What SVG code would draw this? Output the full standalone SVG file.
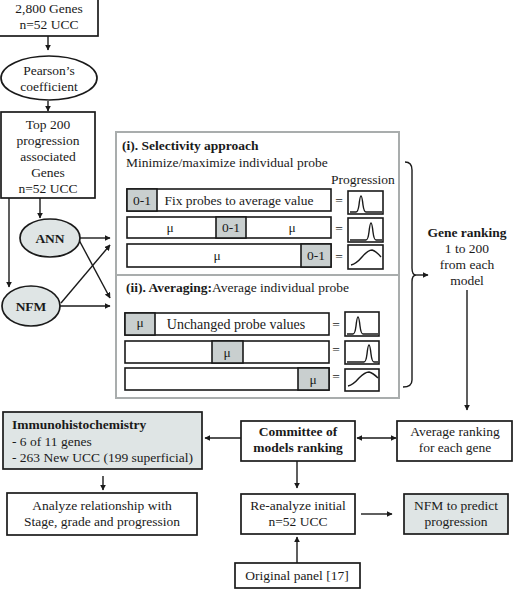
<svg xmlns="http://www.w3.org/2000/svg" width="514" height="594" viewBox="0 0 514 594" font-family="'Liberation Serif', 'DejaVu Serif', serif">
<defs>
<marker id="ah" viewBox="0 0 10 10" refX="9" refY="5" markerWidth="6" markerHeight="6" orient="auto-start-reverse" markerUnits="userSpaceOnUse">
<path d="M0,0 L10,5 L0,10 z" fill="#1a1a1a"/>
</marker>
<style>
text{font-family:'Liberation Serif','DejaVu Serif',serif;font-size:13.5px;fill:#1a1a1a}
.c{text-anchor:middle}
.b{font-weight:bold}
.box{fill:#fff;stroke:#1a1a1a;stroke-width:1.7}
.fbox{fill:#dfe5e5;stroke:#1a1a1a;stroke-width:1.7}
.ell{fill:#dfe5e5;stroke:#1a1a1a;stroke-width:1.7}
.cell{fill:#c9cfcf;stroke:#1a1a1a;stroke-width:1.6}
.row{fill:#fff;stroke:#1a1a1a;stroke-width:1.6}
.gbox{fill:#fff;stroke:#1a1a1a;stroke-width:1.6}
.curve{fill:none;stroke:#1a1a1a;stroke-width:1.4}
.ln{fill:none;stroke:#1a1a1a;stroke-width:1.4}
.ar{fill:none;stroke:#1a1a1a;stroke-width:1.4;marker-end:url(#ah)}
</style>
</defs>
<rect width="514" height="594" fill="#fff"/>

<g id="connectors">
<path class="ar" d="M48,36 V50"/>
<path class="ar" d="M48,101 V111"/>
<path class="ar" d="M40,198 V218"/>
<path class="ar" d="M9,198 V287"/>
<path class="ar" d="M80,238 H110"/>
<path class="ar" d="M79,240 L110,298"/>
<path class="ar" d="M60,306 H110"/>
<path class="ar" d="M61,303 L110,245"/>
<path class="ar" d="M142,170 V184"/>
<path class="ar" d="M142,293 V307"/>
<path class="ln" d="M405,162 Q412,162 412,170 V268 Q412,275 416,275 Q412,275 412,282 V380 Q412,387 403,387"/>
<path class="ar" d="M416,275 H428"/>
<path class="ar" d="M467,290 V410"/>
<path class="ar" d="M357,438 H396" style="marker-start:url(#ah)"/>
<path class="ar" d="M241,438 H205"/>
<path class="ar" d="M103,476 V490"/>
<path class="ar" d="M297,461 V488"/>
<path class="ar" d="M361,514 H392"/>
<path class="ar" d="M297,563 V537"/>
</g>

<g id="genes2800">
<rect class="box" x="-1" y="-2" width="99" height="38"/>
<text class="c" x="49" y="13">2,800 Genes</text>
<text class="c" x="49" y="29">n=52 UCC</text>
</g>

<g id="pearson">
<ellipse class="ell" cx="49" cy="78" rx="48" ry="22" style="fill:#fff"/>
<text class="c" x="49" y="75">Pearson’s</text>
<text class="c" x="49" y="91">coefficient</text>
</g>

<g id="top200">
<rect class="box" x="1" y="112" width="94" height="86"/>
<text class="c" x="48" y="129">Top 200</text>
<text class="c" x="48" y="145">progression</text>
<text class="c" x="48" y="161">associated</text>
<text class="c" x="48" y="177">Genes</text>
<text class="c" x="48" y="193">n=52 UCC</text>
</g>

<g id="ann">
<ellipse class="ell" cx="50" cy="238" rx="30" ry="19"/>
<text class="c b" x="50" y="243">ANN</text>
</g>

<g id="nfm">
<ellipse class="ell" cx="31" cy="306" rx="29" ry="20"/>
<text class="c b" x="31" y="311">NFM</text>
</g>

<g id="methods">
<rect x="116" y="132" width="283" height="266" fill="#fff" stroke="#a9adad" stroke-width="2"/>
<line x1="116" y1="275" x2="399" y2="275" stroke="#a9adad" stroke-width="2"/>
<text class="b" x="122" y="150">(i). Selectivity approach</text>
<text x="126" y="167">Minimize/maximize individual probe</text>
<text x="331" y="184">Progression</text>

<rect class="row" x="127" y="189" width="204" height="22"/>
<rect class="cell" x="127" y="189" width="30" height="22"/>
<text class="c" x="142" y="205">0-1</text>
<text class="c" x="239" y="205">Fix probes to average value</text>
<text class="c" x="339" y="205">=</text>
<rect class="gbox" x="348" y="191" width="35" height="23"/>
<path class="curve" d="M350,212 H356 Q358,212 359,205 Q360,196 361,196 Q362,196 363,205 Q364,212 366,212 H382"/>

<rect class="row" x="127" y="217" width="204" height="21"/>
<rect class="cell" x="216" y="217" width="30" height="21"/>
<text class="c" x="170" y="232">μ</text>
<text class="c" x="231" y="232">0-1</text>
<text class="c" x="292" y="232">μ</text>
<text class="c" x="339" y="233">=</text>
<rect class="gbox" x="348" y="218" width="35" height="24"/>
<path class="curve" d="M350,240 H366 Q368,240 369,232 Q370,223 371,223 Q372,223 373,232 Q374,240 376,240 H382"/>

<rect class="row" x="127" y="244" width="204" height="23"/>
<rect class="cell" x="301" y="244" width="30" height="23"/>
<text class="c" x="217" y="260">μ</text>
<text class="c" x="316" y="260">0-1</text>
<text class="c" x="339" y="261">=</text>
<rect class="gbox" x="348" y="245" width="35" height="24"/>
<path class="curve" d="M351,265 Q356,264 362,257 Q368,250 372,250 Q376,251 381,257"/>

<text x="126" y="292"><tspan font-weight="bold">(ii). Averaging:</tspan>Average individual probe</text>

<rect class="row" x="125" y="313" width="204" height="22"/>
<rect class="cell" x="125" y="313" width="30" height="22"/>
<text class="c" x="140" y="327">μ</text>
<text class="c" x="236" y="329" style="font-size:14px">Unchanged probe values</text>
<text class="c" x="336" y="329">=</text>
<rect class="gbox" x="345" y="312" width="34" height="24"/>
<path class="curve" d="M347,334 H353 Q355,334 356,326 Q357,317 358,317 Q359,317 360,326 Q361,334 363,334 H378"/>

<rect class="row" x="125" y="341" width="204" height="22"/>
<rect class="cell" x="212" y="341" width="31" height="22"/>
<text class="c" x="227" y="357">μ</text>
<text class="c" x="336" y="354">=</text>
<rect class="gbox" x="345" y="341" width="34" height="23"/>
<path class="curve" d="M347,362 H364 Q366,362 367,354 Q368,345 369,345 Q370,345 371,354 Q372,362 374,362 H378"/>

<rect class="row" x="125" y="368" width="204" height="22"/>
<rect class="cell" x="298" y="368" width="31" height="22"/>
<text class="c" x="313" y="384">μ</text>
<text class="c" x="336" y="381">=</text>
<rect class="gbox" x="345" y="369" width="34" height="22"/>
<path class="curve" d="M348,386 Q353,385 359,378 Q365,372 369,372 Q373,373 378,378"/>
</g>

<g id="gene-ranking">
<text class="c b" x="467" y="237">Gene ranking</text>
<text class="c" x="467" y="253">1 to 200</text>
<text class="c" x="467" y="269">from each</text>
<text class="c" x="467" y="285">model</text>
</g>

<g id="average">
<rect class="box" x="397" y="421" width="115" height="40"/>
<text class="c" x="455" y="436">Average ranking</text>
<text class="c" x="455" y="452">for each gene</text>
</g>

<g id="committee">
<rect class="box" x="241" y="421" width="114" height="40"/>
<text class="c b" x="298" y="436">Committee of</text>
<text class="c b" x="298" y="452">models ranking</text>
</g>

<g id="immuno">
<rect class="fbox" x="3" y="412" width="199" height="57"/>
<text class="b" x="12" y="429">Immunohistochemistry</text>
<text x="12" y="446">- 6 of 11 genes</text>
<text x="12" y="462">- 263 New UCC (199 superficial)</text>
</g>

<g id="analyze">
<rect class="box" x="7" y="493" width="190" height="42"/>
<text class="c" x="102" y="510">Analyze relationship with</text>
<text class="c" x="102" y="526">Stage, grade and progression</text>
</g>

<g id="reanalyze">
<rect class="box" x="241" y="494" width="114" height="40"/>
<text class="c" x="298" y="510">Re-analyze initial</text>
<text class="c" x="298" y="526">n=52 UCC</text>
</g>

<g id="nfm-predict">
<rect class="fbox" x="404" y="494" width="104" height="40"/>
<text class="c" x="456" y="510">NFM to predict</text>
<text class="c" x="456" y="526">progression</text>
</g>

<g id="original">
<rect class="box" x="235" y="563" width="125" height="25"/>
<text class="c" x="297" y="580">Original panel [17]</text>
</g>
</svg>
